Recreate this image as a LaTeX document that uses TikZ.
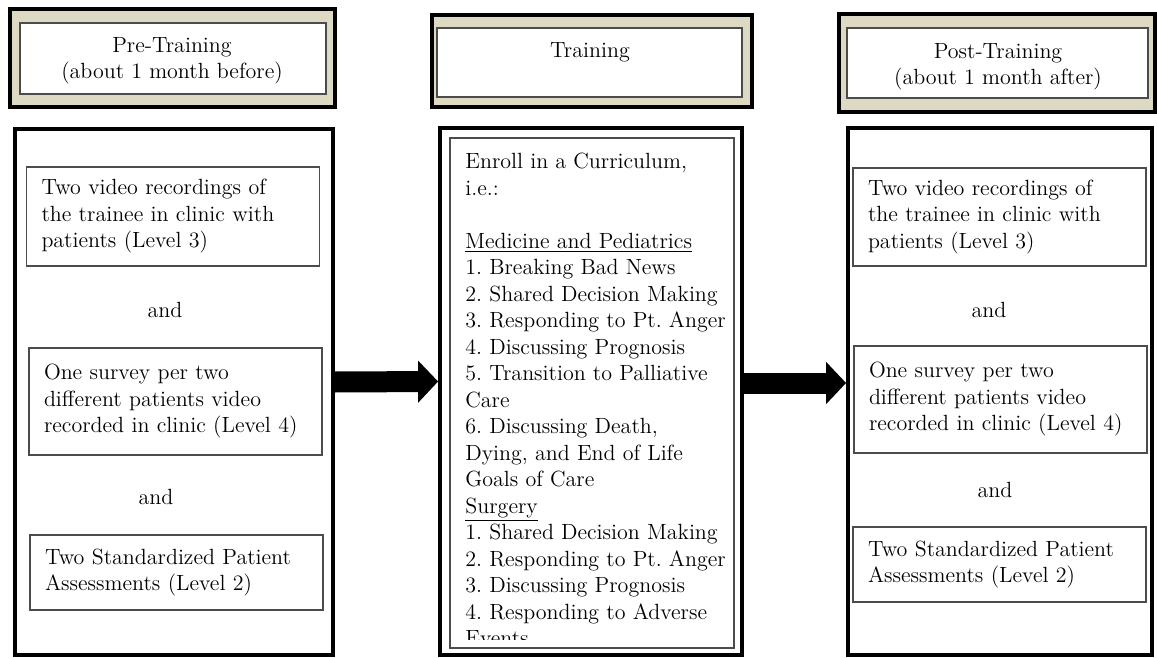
\documentclass[tikz,border=0pt]{standalone}
\usetikzlibrary{arrows.meta}
\definecolor{headfill}{RGB}{221,217,195}
\newcommand{\flowfont}{\fontsize{11}{13.25}\selectfont\frenchspacing}

\begin{document}
\begin{tikzpicture}[x=0.5pt, y=-0.5pt,
  phase/.style={draw, line width=2.1pt, fill=headfill, inner sep=0pt},
  phasebox/.style={draw=black!70, line width=0.6pt, fill=white, inner sep=0pt},
  phaselbl/.style={font=\flowfont, align=center, inner sep=0pt, anchor=north},
  body/.style={draw, line width=1.9pt, inner sep=0pt},
  item/.style={draw=black!70, line width=0.6pt, font=\flowfont, align=left,
    text width=131.5pt, inner xsep=7.5pt, inner ysep=0pt},
  conj/.style={font=\flowfont, inner sep=0pt},
  bigarrow/.style={line width=10.5pt, -{Triangle[length=10pt,width=20.5pt]}}]
  \useasboundingbox (0,0) rectangle (1157,658);
  % headers
  \node[phase, minimum width=162.5pt, minimum height=49pt] (preHead) at (172.5,58) {};
  \node[phasebox, minimum width=153pt, minimum height=35.5pt] (preHeadBox) at (173,58.5) {};
  \node[phaselbl] (preLbl) at (172,37) {Pre-Training\\(about 1 month before)};
  \node[phase, minimum width=160pt, minimum height=46pt] (trainHead) at (592,61) {};
  \node[phasebox, minimum width=152.5pt, minimum height=34.5pt] (trainHeadBox) at (589.5,62.5) {};
  \node[phaselbl] (trainLbl) at (590,42) {Training};
  \node[phase, minimum width=158pt, minimum height=49pt] (postHead) at (997,63) {};
  \node[phasebox, minimum width=150.5pt, minimum height=35pt] (postHeadBox) at (997.5,63) {};
  \node[phaselbl] (postLbl) at (998,43) {Post-Training\\(about 1 month after)};
  % pre-training
  \node[body, minimum width=159pt, minimum height=263pt] (preBody) at (174,392) {};
  \node[item, minimum height=49.5pt] (preVideo) at (173,216.5)
    {Two video recordings of\\the trainee in clinic with\\patients (Level 3)};
  \node[conj] (preAndA) at (165,310) {and};
  \node[item, minimum height=53.5pt] (preSurvey) at (175.5,401.5)
    {One survey per two\\different patients video\\recorded in clinic (Level 4)};
  \node[conj] (preAndB) at (156,497) {and};
  \node[item, minimum height=37.5pt] (preSP) at (176.5,572.5)
    {Two Standardized Patient\\Assessments (Level 2)};
  % training
  \node[body, minimum width=151pt, minimum height=263.5pt] (trainBody) at (591,391.5) {};
  \node[phasebox, minimum width=142pt, minimum height=255pt] (trainBox) at (592,393) {};
  \begin{scope}
    \clip (450,138) rectangle (734,639);
    \node[font=\flowfont, align=left, inner sep=0pt, anchor=north west] (trainList) at (465,153)
      {Enroll in a Curriculum,\\i.e.:\\~\\\underline{Medicine and Pediatrics}\\
       1. Breaking Bad News\\2. Shared Decision Making\\3. Responding to Pt. Anger\\
       4. Discussing Prognosis\\5. Transition to Palliative\\Care\\
       6. Discussing Death,\\Dying, and End of Life\\Goals of Care\\\underline{Surgery}\\
       1. Shared Decision Making\\2. Responding to Pt. Anger\\3. Discussing Prognosis\\
       4. Responding to Adverse\\Events};
  \end{scope}
  % post-training
  \node[body, minimum width=152pt, minimum height=263.5pt] (postBody) at (1000,391.5) {};
  \node[item, minimum height=49pt] (postVideo) at (999.5,217)
    {Two video recordings of\\the trainee in clinic with\\patients (Level 3)};
  \node[conj] (postAndA) at (989,310) {and};
  \node[item, minimum height=53.5pt] (postSurvey) at (1000.5,399.5)
    {One survey per two\\different patients video\\recorded in clinic (Level 4)};
  \node[conj] (postAndB) at (995,490) {and};
  \node[item, minimum height=37.5pt] (postSP) at (999.5,564.5)
    {Two Standardized Patient\\Assessments (Level 2)};
  % arrows
  \draw[bigarrow] ([yshift=5pt]preBody.east) -- ([yshift=5pt]trainBody.west);
  \draw[bigarrow] ([yshift=4.25pt]trainBody.east) -- ([yshift=4.25pt]postBody.west);
\end{tikzpicture}
\end{document}
